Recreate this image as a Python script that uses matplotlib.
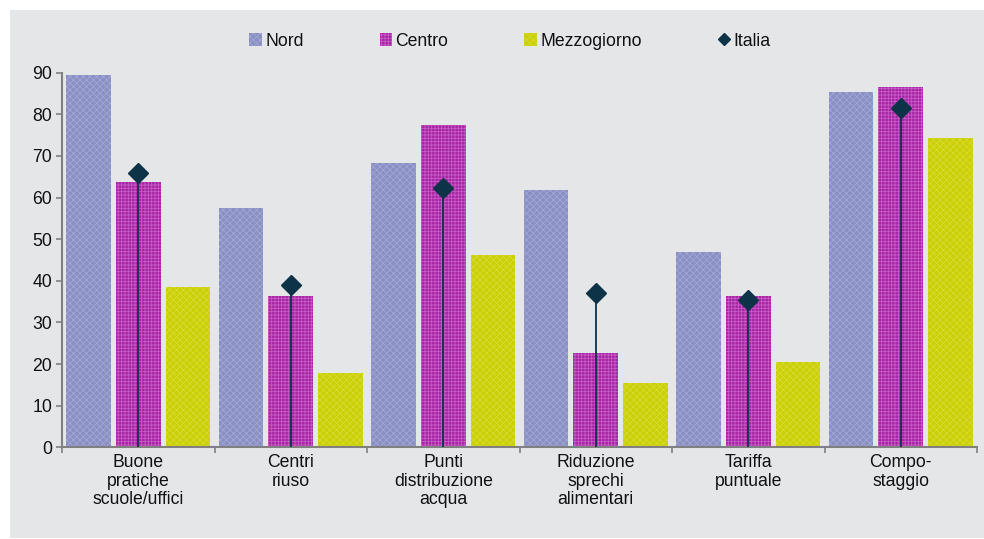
import matplotlib
matplotlib.use("Agg")
import matplotlib.pyplot as plt
from matplotlib.patches import Rectangle, Patch
from matplotlib.lines import Line2D
import numpy as np

plt.rcParams['font.family'] = ['Liberation Sans', 'DejaVu Sans']
plt.rcParams['hatch.linewidth'] = 0.6

categories = ["Buone\npratiche\nscuole/uffici", "Centri\nriuso", "Punti\ndistribuzione\nacqua",
              "Riduzione\nsprechi\nalimentari", "Tariffa\npuntuale", "Compo-\nstaggio"]
nord = [89.4, 57.6, 68.2, 61.7, 46.9, 85.3]
centro = [63.7, 36.4, 77.4, 22.7, 36.4, 86.5]
mezzogiorno = [38.5, 17.9, 46.3, 15.4, 20.5, 74.4]
italia = [65.9, 38.9, 62.2, 37.1, 35.3, 81.6]
series_names = ["Nord", "Centro", "Mezzogiorno", "Italia"]
yticks = [0, 10, 20, 30, 40, 50, 60, 70, 80, 90]

bg = '#E5E6E8'
c_nord, h_nord = '#8A8FC4', '#A3A8D6'
c_centro, h_centro = '#A824A6', '#C65CC4'
c_mezz, h_mezz = '#CBD000', '#D6DA3A'
c_ita = '#0D3349'
fs = 12.7

fig = plt.figure(figsize=(9.84, 5.39), dpi=100)
fig.patches.append(Rectangle((10/984, 1/539), 974/984, 528/539, transform=fig.transFigure,
                             facecolor=bg, edgecolor='none', zorder=-10))

ax = fig.add_axes([62/984, (539-447.3)/539, (977-62)/984, (447.3-72.7)/539])
ax.set_facecolor('none')

x = np.arange(len(categories))
w = 0.293
off = 0.326
ax.bar(x - off, nord, w, color=c_nord, edgecolor=h_nord, linewidth=0, hatch='xxxxx', zorder=2)
ax.bar(x, centro, w, color=c_centro, edgecolor=h_centro, linewidth=0, hatch='+++++', zorder=2)
ax.bar(x + off, mezzogiorno, w, color=c_mezz, edgecolor=h_mezz, linewidth=0, hatch='xxxxx', zorder=2)
ax.vlines(x, 0, italia, color=c_ita, linewidth=1.3, zorder=3)
ax.plot(x, italia, linestyle='none', marker='D', markersize=10.5, color=c_ita, zorder=4)

ax.set_xlim(-0.5, len(categories) - 0.5)
ax.set_ylim(0, 90)
ax.set_yticks(yticks)
ax.tick_params(axis='y', length=4, width=1.2, color='#808080', pad=3, labelsize=fs, labelcolor='#111111')
ax.set_xticks(x)
ax.set_xticklabels(categories, fontsize=fs, color='#111111', linespacing=1.15)
ax.set_xticks(np.arange(len(categories) + 1) - 0.5, minor=True)
ax.tick_params(axis='x', which='major', length=0, pad=4.5)
ax.tick_params(axis='x', which='minor', length=4, width=1.2, color='#808080')
for s in ['top', 'right']:
    ax.spines[s].set_visible(False)
for s in ['left', 'bottom']:
    ax.spines[s].set_color('#808080')
    ax.spines[s].set_linewidth(1.5)

handles = [Patch(facecolor=c_nord, edgecolor=h_nord, linewidth=0, hatch='xxxxx'),
           Patch(facecolor=c_centro, edgecolor=h_centro, linewidth=0, hatch='+++++'),
           Patch(facecolor=c_mezz, edgecolor=h_mezz, linewidth=0, hatch='xxxxx'),
           Line2D([], [], linestyle='none', marker='D', markersize=6, color=c_ita)]
fig.legend(handles, series_names, loc='center', bbox_to_anchor=(510/984, (539-41)/539), ncol=4,
           frameon=False, fontsize=fs, handlelength=0.7, handleheight=0.7, handletextpad=0.2,
           columnspacing=4.3, labelcolor='#111111')

fig.savefig('out.png', dpi=100, facecolor='white')
